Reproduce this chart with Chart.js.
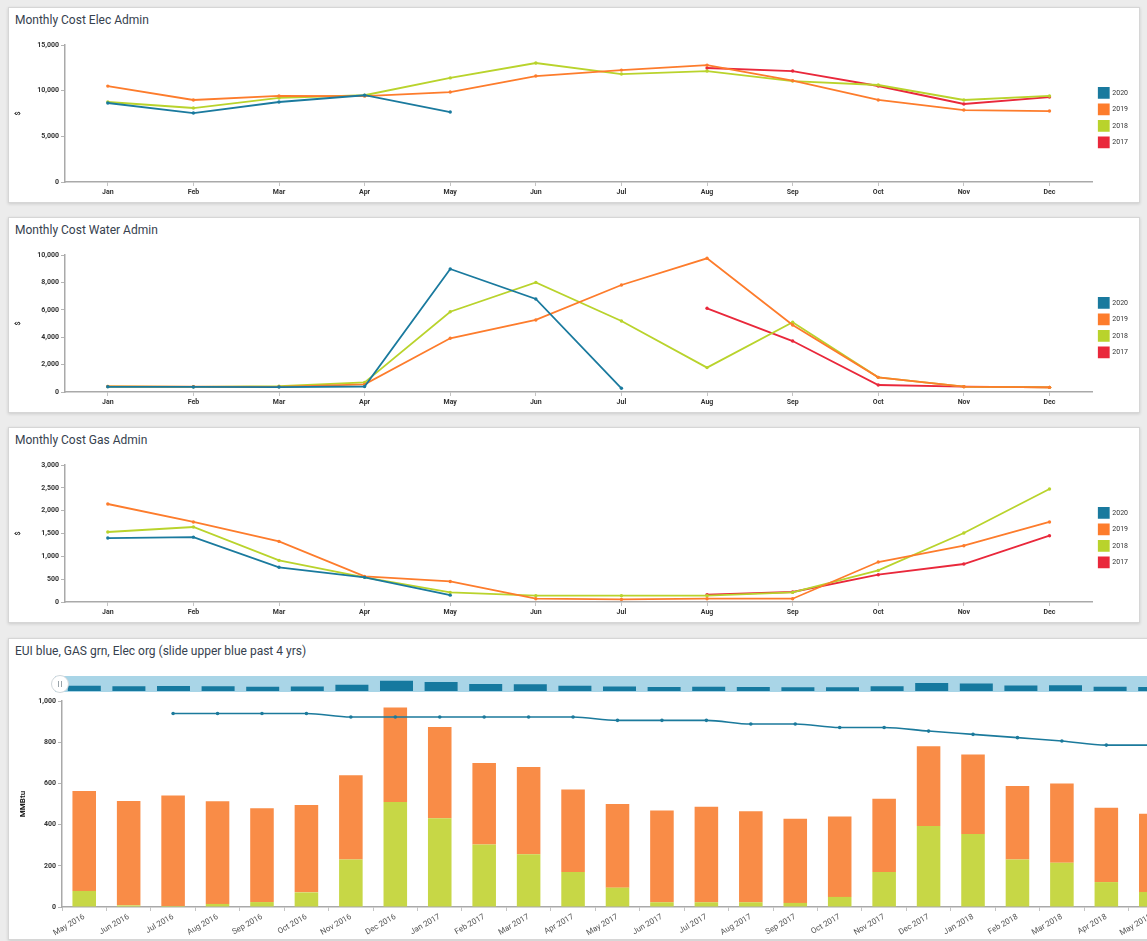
<!DOCTYPE html>
<html>
<head>
<meta charset="utf-8">
<script src="https://cdn.jsdelivr.net/npm/chart.js@4/dist/chart.umd.min.js"></script>
<style>
  html, body { margin: 0; padding: 0; }
  body {
    width: 1147px; height: 941px; overflow: hidden; position: relative;
    background: #ececec; font-family: Roboto, "Open Sans", Arial, sans-serif;
  }
  .panel {
    position: absolute; left: 8px; width: 1130px; height: 194px;
    background: #fff; border: 1px solid #d6d6d6;
    box-shadow: 0 1px 3px rgba(0,0,0,0.14);
  }
  .title {
    position: absolute; left: 6px; top: 5px;
    font-size: 12px; color: #36414e; white-space: nowrap;
  }
  canvas { position: absolute; }
  .band {
    position: absolute; left: 46px; top: 37px; width: 1160px; height: 16px;
    background: #a9d5e7;
  }
  .handle {
    position: absolute; left: 42px; top: 36px; width: 16px; height: 16px;
    border-radius: 50%; background: #fff; border: 1px solid #cfd6da;
  }
  .handle::before, .handle::after {
    content: ""; position: absolute; top: 5px; width: 1px; height: 6px; background: #9aa4aa;
  }
  .handle::before { left: 6px; }
  .handle::after { left: 9px; }
</style>
</head>
<body>

<div class="panel" style="top:7px">
  <div class="title">Monthly Cost Elec Admin</div>
  <canvas id="elec" width="1128" height="165" style="left:1px;top:27px"></canvas>
</div>

<div class="panel" style="top:217px">
  <div class="title">Monthly Cost Water Admin</div>
  <canvas id="water" width="1128" height="165" style="left:1px;top:27px"></canvas>
</div>

<div class="panel" style="top:427px">
  <div class="title">Monthly Cost Gas Admin</div>
  <canvas id="gas" width="1128" height="165" style="left:1px;top:27px"></canvas>
</div>

<div class="panel" style="top:638px;height:300px;width:1220px">
  <div class="title">EUI blue, GAS grn, Elec org (slide upper blue past 4 yrs)</div>
  <div class="band"></div>
  <canvas id="nav" width="1167" height="15" style="left:1px;top:37px"></canvas>
  <div class="handle"></div>
  <canvas id="eui" width="1167" height="246" style="left:1px;top:53px"></canvas>
</div>

<script>
// ---- monthly cost panels ----
const months = ['Jan', 'Feb', 'Mar', 'Apr', 'May', 'Jun', 'Jul', 'Aug', 'Sep', 'Oct', 'Nov', 'Dec'];
const yearLabels = ['2020', '2019', '2018', '2017'];

const elec2020 = [8650, 7550, 8760, 9500, 7660, null, null, null, null, null, null, null];
const elec2019 = [10500, 8980, 9420, 9400, 9850, 11600, 12250, 12800, 11100, 8980, 7880, 7770];
const elec2018 = [8760, 8100, 9200, 9500, 11400, 13030, 11820, 12150, 11050, 10620, 8980, 9420];
const elec2017 = [null, null, null, null, null, null, null, 12480, 12150, 10510, 8540, 9300];

const water2020 = [380, 370, 360, 400, 8980, 6790, 270, null, null, null, null, null];
const water2019 = [410, 390, 380, 560, 3920, 5260, 7810, 9760, 4890, 1070, 390, 340];
const water2018 = [400, 380, 420, 700, 5860, 8000, 5180, 1780, 5090, 1070, 390, 340];
const water2017 = [null, null, null, null, null, null, null, 6110, 3720, 510, 390, 340];

const gas2020 = [1400, 1420, 760, 540, 150, null, null, null, null, null, null, null];
const gas2019 = [2146, 1752, 1327, 560, 450, 72, 57, 72, 72, 876, 1233, 1752];
const gas2018 = [1533, 1642, 911, 540, 210, 138, 138, 138, 210, 692, 1511, 2474];
const gas2017 = [null, null, null, null, null, null, null, 160, 219, 598, 832, 1452];

const yearColors = ['#1a7a9e', '#fd7c2c', '#b9d32c', '#e9283b'];

// ---- energy use panel ----
const euiMonths = [
  'May 2016', 'Jun 2016', 'Jul 2016', 'Aug 2016', 'Sep 2016', 'Oct 2016', 'Nov 2016', 'Dec 2016',
  'Jan 2017', 'Feb 2017', 'Mar 2017', 'Apr 2017', 'May 2017', 'Jun 2017', 'Jul 2017', 'Aug 2017',
  'Sep 2017', 'Oct 2017', 'Nov 2017', 'Dec 2017', 'Jan 2018', 'Feb 2018', 'Mar 2018', 'Apr 2018', 'May 2018'
];
const gasMMBtu  = [78, 8, 5, 15, 24, 71, 231, 510, 431, 304, 256, 170, 94, 23, 23, 23, 20, 49, 170, 393, 354, 231, 215, 121, 73];
const elecMMBtu = [485, 507, 536, 498, 455, 424, 408, 459, 443, 395, 424, 400, 406, 446, 464, 442, 409, 390, 356, 387, 386, 356, 384, 361, 380];
const euiValues = [null, null, 939, 939, 939, 939, 922, 922, 922, 922, 922, 922, 906, 906, 906, 888, 888, 871, 871, 854, 838, 822, 806, 786, 786];

const tickFont = { family: 'Roboto', size: 7, weight: 'bold' };

function yearSets(series) {
  return series.map((data, i) => ({
    label: yearLabels[i],
    data: data,
    borderColor: yearColors[i],
    backgroundColor: yearColors[i],
    borderWidth: 1.8,
    pointRadius: 1.7,
    pointHoverRadius: 1.7,
    pointBorderWidth: 0,
    tension: 0
  }));
}

function costChart(id, series, yMax, step) {
  return new Chart(document.getElementById(id), {
    type: 'line',
    data: { labels: months, datasets: yearSets(series) },
    options: {
      responsive: false,
      animation: false,
      devicePixelRatio: 1,
      layout: { padding: { top: 10, right: 0, bottom: 0, left: 0 } },
      plugins: {
        tooltip: { enabled: false },
        legend: {
          position: 'right',
          fullSize: false,
          // blank title just nudges the key down a little
          title: { display: true, text: ' ', font: { size: 1 }, padding: 3.5 },
          labels: {
            boxWidth: 10, boxHeight: 10, padding: 6.5, color: '#333',
            font: { family: 'Roboto', size: 7 }
          }
        }
      },
      scales: {
        x: {
          offset: true,
          grid: { drawOnChartArea: false, tickLength: 4, color: '#c4c4c4' },
          border: { color: '#a9a9a9', width: 1.5 },
          ticks: { color: '#333', font: tickFont, padding: 2, maxRotation: 0, autoSkip: false },
          afterFit(s) { s.height = 18; }
        },
        y: {
          min: 0, max: yMax,
          grid: { drawOnChartArea: false, tickLength: 4, color: '#b5b5b5' },
          border: { color: '#a9a9a9', width: 1.5 },
          ticks: { stepSize: step, color: '#333', font: tickFont, padding: 2 },
          title: { display: true, text: '$', color: '#333', font: { family: 'Roboto', size: 7, weight: 'bold' }, padding: 4 },
          afterFit(s) { s.width = 55; }
        }
      }
    }
  });
}

costChart('elec', [elec2020, elec2019, elec2018, elec2017], 15000, 5000);
costChart('water', [water2020, water2019, water2018, water2017], 10000, 2000);
costChart('gas', [gas2020, gas2019, gas2018, gas2017], 3000, 500);

// main stacked bars (gas below, electricity above) with the EUI line over them
new Chart(document.getElementById('eui'), {
  data: {
    labels: euiMonths,
    datasets: [
      {
        type: 'line', label: 'EUI', data: euiValues, stack: 'eui', order: 0,
        borderColor: '#1b7a9c', backgroundColor: '#1b7a9c', borderWidth: 1.6,
        pointRadius: 1.8, pointBorderWidth: 0, cubicInterpolationMode: 'monotone'
      },
      {
        type: 'bar', label: 'Gas', data: gasMMBtu, stack: 'energy', order: 1,
        backgroundColor: '#c7d746', barPercentage: 0.53, categoryPercentage: 1
      },
      {
        type: 'bar', label: 'Elec', data: elecMMBtu, stack: 'energy', order: 2,
        backgroundColor: '#f98c47', barPercentage: 0.53, categoryPercentage: 1
      }
    ]
  },
  options: {
    responsive: false,
    animation: false,
    devicePixelRatio: 1,
    layout: { padding: { top: 9, right: 0, bottom: 0, left: 0 } },
    plugins: { legend: { display: false }, tooltip: { enabled: false } },
    scales: {
      x: {
        stacked: true, offset: true,
        grid: { drawOnChartArea: false, tickLength: 4, color: '#c4c4c4' },
        border: { color: '#a9a9a9', width: 1.5 },
        ticks: { color: '#555', font: { family: 'Roboto', size: 8 }, padding: 1, minRotation: 30, maxRotation: 30, autoSkip: false },
        afterFit(s) { s.height = 31; }
      },
      y: {
        stacked: true, min: 0, max: 1000,
        grid: { drawOnChartArea: false, tickLength: 4, color: '#b5b5b5' },
        border: { color: '#a9a9a9', width: 1.5 },
        ticks: { stepSize: 200, color: '#333', font: tickFont, padding: 2 },
        title: { display: true, text: 'MMBtu', color: '#222', font: { family: 'Roboto', size: 8, weight: 'bold' }, padding: 8 },
        afterFit(s) { s.width = 52; }
      }
    }
  }
});

// navigator strip: miniature of the monthly totals
new Chart(document.getElementById('nav'), {
  type: 'bar',
  data: {
    labels: euiMonths,
    datasets: [{
      data: gasMMBtu.map((g, i) => g + elecMMBtu[i]),
      backgroundColor: '#16799f', barPercentage: 0.74, categoryPercentage: 1
    }]
  },
  options: {
    responsive: false,
    animation: false,
    devicePixelRatio: 1,
    layout: { padding: { top: 0, right: 0, bottom: 0, left: 52 } },
    plugins: { legend: { display: false }, tooltip: { enabled: false } },
    scales: {
      x: { display: false, offset: true },
      y: { display: false, min: 130, max: 1365 }
    }
  }
});
</script>
</body>
</html>
